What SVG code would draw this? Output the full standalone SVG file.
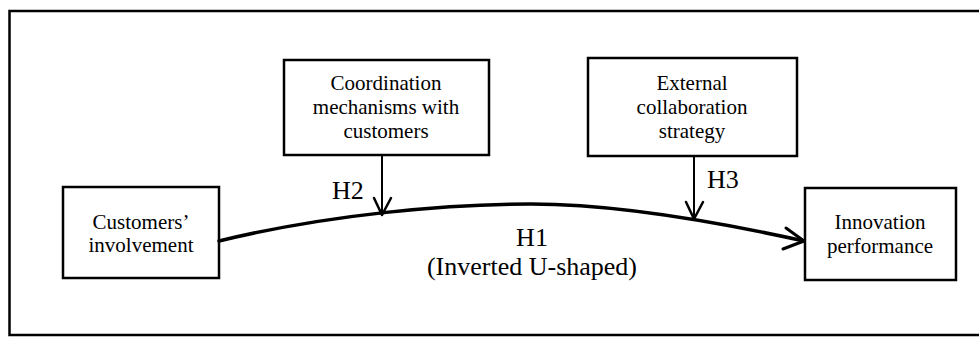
<svg xmlns="http://www.w3.org/2000/svg" width="979" height="337" viewBox="0 0 979 337">
<style>
.box{fill:#fff;stroke:#000;stroke-width:2.5}
.t{font-family:"Liberation Serif","Times New Roman",serif;font-size:21px;fill:#000;text-anchor:middle}
.h{font-family:"Liberation Serif","Times New Roman",serif;font-size:26px;fill:#000}
.hm{text-anchor:middle}
.c{fill:none;stroke:#000;stroke-linecap:round;stroke-linejoin:round}
</style>
<rect x="0" y="0" width="979" height="337" fill="#fff"/>
<rect x="9.5" y="11" width="980" height="324" fill="none" stroke="#000" stroke-width="2.5"/>
<g id="customers">
<rect class="box" x="63" y="187" width="156" height="91"/>
<text class="t" x="141" y="229">Customers’</text>
<text class="t" x="141" y="252">involvement</text>
</g>
<g id="coordination">
<rect class="box" x="284" y="60" width="205" height="95"/>
<text class="t" x="386" y="90">Coordination</text>
<text class="t" x="386" y="114">mechanisms with</text>
<text class="t" x="386" y="138">customers</text>
</g>
<g id="external">
<rect class="box" x="588" y="58" width="209" height="98"/>
<text class="t" x="692" y="90">External</text>
<text class="t" x="692" y="114">collaboration</text>
<text class="t" x="692" y="138">strategy</text>
</g>
<g id="innovation">
<rect class="box" x="805" y="188" width="151" height="92"/>
<text class="t" x="880" y="229">Innovation</text>
<text class="t" x="880" y="253">performance</text>
</g>
<g id="connectors">
<path class="c" stroke-width="3.5" d="M219,241 C330,214 450,204 531,204 C610,204 700,218 804,241"/>
<path class="c" stroke-width="3" d="M786,228 L804,241 L783,249"/>
<path class="c" stroke-width="2" d="M382,155 L382,215"/>
<path class="c" stroke-width="2.5" d="M374,198 L382,215 L391,198"/>
<path class="c" stroke-width="2" d="M694,156 L694,219"/>
<path class="c" stroke-width="2.5" d="M686,202 L694,219 L703,202"/>
<text class="h" x="332" y="199">H2</text>
<text class="h" x="707" y="188">H3</text>
<text class="h hm" x="532" y="246">H1</text>
<text class="h hm" x="532" y="275">(Inverted U-shaped)</text>
</g>
</svg>
